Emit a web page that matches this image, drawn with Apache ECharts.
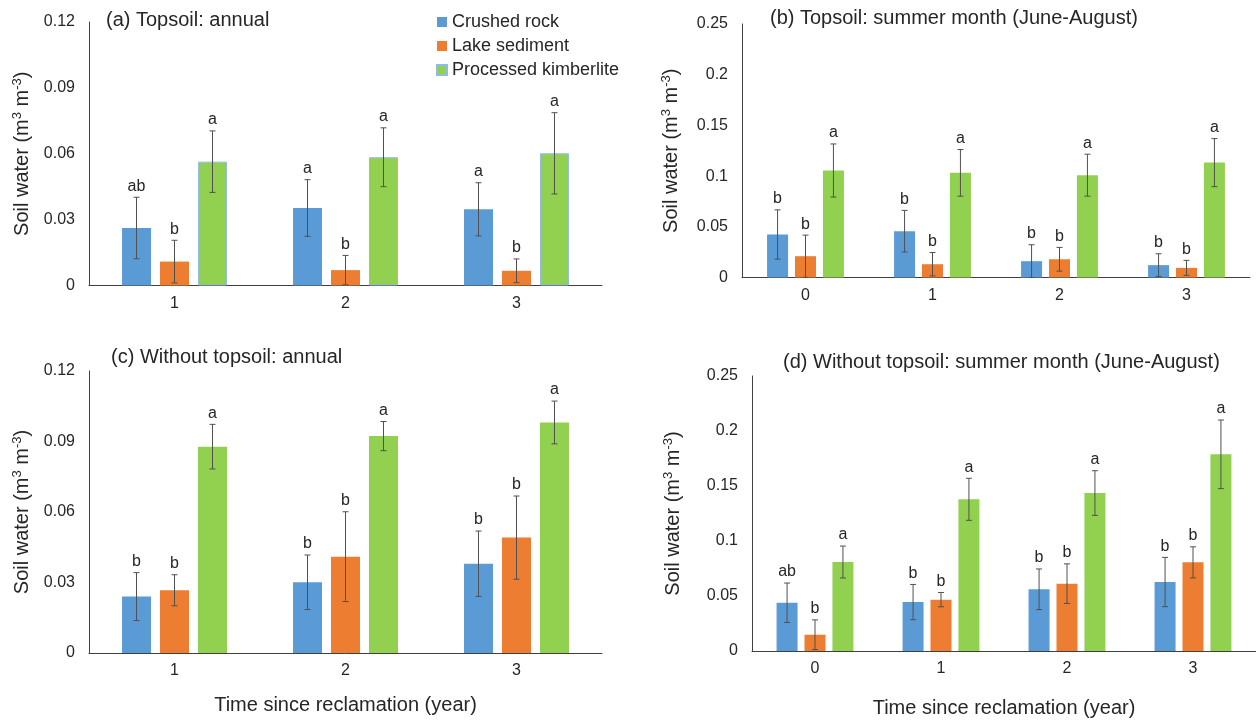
<!DOCTYPE html>
<html><head><meta charset="utf-8">
<script src="https://cdn.jsdelivr.net/npm/echarts@6/dist/echarts.min.js"></script>
<style>html,body{margin:0;padding:0;background:#fff}#c{width:1256px;height:722px}</style>
</head><body><div id="c"></div>
<script>
const seriesNames = ['Crushed rock', 'Lake sediment', 'Processed kimberlite'];
const yearsAnnual = ['1', '2', '3'];
const yearsSummer = ['0', '1', '2', '3'];
const yTicksAnnual = [0, 0.12, 0.03];   // min, max, interval
const yTicksSummer = [0, 0.25, 0.05];

// (a) Topsoil: annual
const aCrushed = [0.0262, 0.0353, 0.0347];
const aCrushedErr = [0.0140, 0.0129, 0.0121];
const aCrushedLetters = ['ab', 'a', 'a'];
const aLake = [0.0109, 0.0070, 0.0067];
const aLakeErr = [0.0097, 0.0067, 0.0054];
const aLakeLetters = ['b', 'b', 'b'];
const aKimb = [0.0564, 0.0584, 0.0602];
const aKimbErr = [0.0140, 0.0134, 0.0185];
const aKimbLetters = ['a', 'a', 'a'];

// (b) Topsoil: summer month
const bCrushed = [0.0424, 0.0457, 0.0161, 0.0122];
const bCrushedErr = [0.0243, 0.0205, 0.0162, 0.0112];
const bCrushedLetters = ['b', 'b', 'b', 'b'];
const bLake = [0.0210, 0.0131, 0.0180, 0.0095];
const bLakeErr = [0.0208, 0.0115, 0.0117, 0.0074];
const bLakeLetters = ['b', 'b', 'b', 'b'];
const bKimb = [0.1055, 0.1032, 0.1009, 0.1133];
const bKimbErr = [0.0262, 0.0230, 0.0207, 0.0237];
const bKimbLetters = ['a', 'a', 'a', 'a'];

// (c) Without topsoil: annual
const cCrushed = [0.0240, 0.0301, 0.0380];
const cCrushedErr = [0.0102, 0.0116, 0.0139];
const cCrushedLetters = ['b', 'b', 'b'];
const cLake = [0.0267, 0.0410, 0.0491];
const cLakeErr = [0.0066, 0.0191, 0.0177];
const cLakeLetters = ['b', 'b', 'b'];
const cKimb = [0.0878, 0.0923, 0.0981];
const cKimbErr = [0.0095, 0.0062, 0.0091];
const cKimbLetters = ['a', 'a', 'a'];

// (d) Without topsoil: summer month
const dCrushed = [0.0439, 0.0445, 0.0561, 0.0627];
const dCrushedErr = [0.0179, 0.0160, 0.0185, 0.0224];
const dCrushedLetters = ['ab', 'b', 'b', 'b'];
const dLake = [0.0148, 0.0467, 0.0612, 0.0806];
const dLakeErr = [0.0135, 0.0065, 0.0180, 0.0141];
const dLakeLetters = ['b', 'b', 'b', 'b'];
const dKimb = [0.0809, 0.1379, 0.1436, 0.1788];
const dKimbErr = [0.0145, 0.0191, 0.0203, 0.0312];
const dKimbLetters = ['a', 'a', 'a', 'a'];

const titles = ['(a) Topsoil: annual', '(b) Topsoil: summer month (June-August)',
  '(c) Without topsoil: annual', '(d) Without topsoil: summer month (June-August)'];
const xAxisTitle = 'Time since reclamation (year)';

const COLORS = ['#5B9BD5', '#ED7D31', '#92D050'];
const FONT = '"Liberation Sans", Arial, sans-serif';
const TXT = '#262626';
const AXIS = '#404040';

const panels = [
  { grid: {left: 89, top: 22, width: 513, height: 263.5}, cats: yearsAnnual, yt: yTicksAnnual, barW: 29, gap: 0.31,
    vals: [aCrushed, aLake, aKimb], errs: [aCrushedErr, aLakeErr, aKimbErr], lets: [aCrushedLetters, aLakeLetters, aKimbLetters],
    nameGap: 56, xName: '', xNameGap: 0, title: {left: 106, top: 10} },
  { grid: {left: 742, top: 24, width: 508, height: 253.5}, cats: yearsSummer, yt: yTicksSummer, barW: 21, gap: 0.33,
    vals: [bCrushed, bLake, bKimb], errs: [bCrushedErr, bLakeErr, bKimbErr], lets: [bCrushedLetters, bLakeLetters, bKimbLetters],
    nameGap: 60, xName: '', xNameGap: 0, title: {left: 770, top: 8} },
  { grid: {left: 89, top: 371, width: 513, height: 282}, cats: yearsAnnual, yt: yTicksAnnual, barW: 29, gap: 0.31,
    vals: [cCrushed, cLake, cKimb], errs: [cCrushedErr, cLakeErr, cKimbErr], lets: [cCrushedLetters, cLakeLetters, cKimbLetters],
    nameGap: 56, xName: xAxisTitle, xNameGap: 42, title: {left: 111, top: 347} },
  { grid: {left: 752, top: 376, width: 504, height: 275}, cats: yearsSummer, yt: yTicksSummer, barW: 21, gap: 0.33,
    vals: [dCrushed, dLake, dKimb], errs: [dCrushedErr, dLakeErr, dKimbErr], lets: [dCrushedLetters, dLakeLetters, dKimbLetters],
    nameGap: 68, xName: xAxisTitle, xNameGap: 47, title: {left: 783, top: 352} }
];

const grids = [], xAxes = [], yAxes = [], series = [], titleComps = [];
panels.forEach((p, pi) => {
  grids.push(Object.assign({containLabel: false}, p.grid));
  titleComps.push({text: titles[pi], left: p.title.left, top: p.title.top, padding: 0,
    textStyle: {fontSize: 20, fontWeight: 'normal', color: TXT, fontFamily: FONT}});
  xAxes.push({type: 'category', gridIndex: pi, data: p.cats,
    axisLine: {lineStyle: {color: AXIS, width: 1}}, axisTick: {show: false},
    axisLabel: {fontSize: 16, color: TXT, fontFamily: FONT, margin: 10},
    name: p.xName, nameLocation: 'middle', nameGap: p.xNameGap,
    nameTextStyle: {fontSize: 20, color: TXT, fontFamily: FONT}});
  yAxes.push({type: 'value', gridIndex: pi, min: p.yt[0], max: p.yt[1], interval: p.yt[2],
    axisLine: {show: true, lineStyle: {color: AXIS, width: 1}}, axisTick: {show: false},
    splitLine: {show: false},
    axisLabel: {fontSize: 16, color: TXT, fontFamily: FONT, margin: 14},
    name: 'Soil water (m{sup|3} m{sup|-3})', nameLocation: 'middle', nameRotate: 90, nameGap: p.nameGap,
    nameTextStyle: {fontSize: 20, color: TXT, fontFamily: FONT,
      rich: {sup: {fontSize: 13, color: TXT, fontFamily: FONT, padding: [0, 0, 9, 0]}}}});
  const step = p.barW * (1 + p.gap);
  for (let s = 0; s < 3; s++) {
    const itemStyle = {color: COLORS[s]};
    if (pi === 0 && s === 2) { itemStyle.borderColor = '#8FBCE6'; itemStyle.borderWidth = 1; }
    series.push({type: 'bar', name: seriesNames[s], xAxisIndex: pi, yAxisIndex: pi,
      data: p.vals[s], barWidth: p.barW, barGap: (p.gap * 100) + '%', itemStyle: itemStyle,
      emphasis: {disabled: true}, silent: true, z: 2});
  }
  for (let s = 0; s < 3; s++) {
    const offset = (s - 1) * step;
    const letters = p.lets[s];
    series.push({type: 'custom', name: 'err' + pi + s, xAxisIndex: pi, yAxisIndex: pi, z: 5, silent: true,
      data: p.vals[s].map((v, i) => [i, v, p.errs[s][i]]),
      encode: {x: 0, y: 1},
      renderItem: function (params, api) {
        const i = api.value(0), m = api.value(1), e = api.value(2);
        const x = api.coord([i, m])[0] + offset;
        const yTop = api.coord([i, m + e])[1];
        const yBot = api.coord([i, Math.max(m - e, 0)])[1];
        const ls = {stroke: '#505050', lineWidth: 1};
        const cap = 3;
        return {type: 'group', children: [
          {type: 'line', shape: {x1: x, y1: yTop, x2: x, y2: yBot}, style: ls},
          {type: 'line', shape: {x1: x - cap, y1: yTop, x2: x + cap, y2: yTop}, style: ls},
          {type: 'line', shape: {x1: x - cap, y1: yBot, x2: x + cap, y2: yBot}, style: ls},
          {type: 'text', style: {text: letters[params.dataIndex], x: x, y: yTop - 11,
            align: 'center', verticalAlign: 'middle', fontSize: 16, fontFamily: FONT, fill: TXT}}
        ]};
      }});
  }
});

const chart = echarts.init(document.getElementById('c'), null, {renderer: 'canvas'});
chart.setOption({
  animation: false,
  backgroundColor: '#fff',
  title: titleComps,
  legend: {data: seriesNames, orient: 'vertical', left: 436, top: 13, padding: 0,
    itemWidth: 10, itemHeight: 10, itemGap: 6, icon: 'rect',
    textStyle: {fontSize: 18, color: TXT, fontFamily: FONT}},
  grid: grids, xAxis: xAxes, yAxis: yAxes, series: series
});
</script></body></html>
